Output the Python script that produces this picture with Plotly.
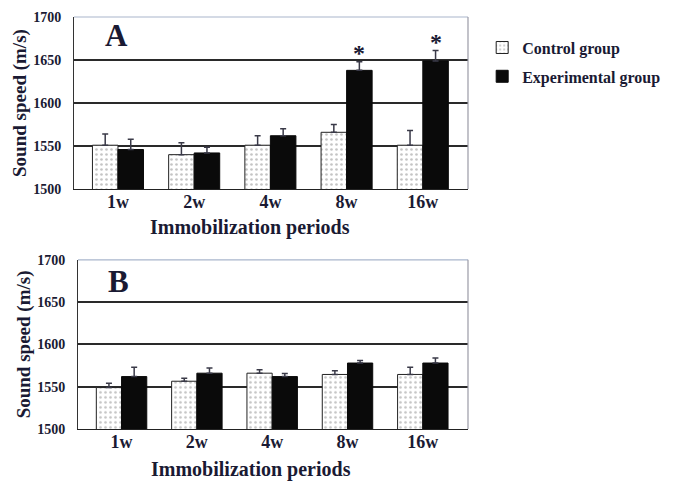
import plotly.graph_objects as go

# Immobilization periods (categories)
periods = ["1w", "2w", "4w", "8w", "16w"]

# Panel A: sound speed (m/s), mean and upper error
a_control = [1551, 1540, 1551, 1566, 1551]
a_control_err = [13, 14, 11, 9, 17]
a_exp = [1546, 1542, 1562, 1638, 1649]
a_exp_err = [12, 6.5, 8, 10, 12]

# Panel B: sound speed (m/s), mean and upper error
b_control = [1549, 1556.5, 1566, 1564.5, 1564.5]
b_control_err = [5, 3.5, 4, 4.5, 8.5]
b_exp = [1562, 1566, 1562, 1578, 1578]
b_exp_err = [11, 6, 3.5, 3, 6]

# Periods with a significant difference in panel A
a_significant = [3, 4]

y_ticks = [1500, 1550, 1600, 1650, 1700]

FONT = "Liberation Serif"
TXT = "#1a1a33"
BARGAP = 0.33

x_idx = list(range(len(periods)))

control_marker = dict(
    color="white",
    line=dict(color="#222222", width=1),
    pattern=dict(shape=".", fgcolor="#8a8a8a", bgcolor="white", size=5, solidity=0.22),
)
exp_marker = dict(color="#0a0a0a", line=dict(color="#0a0a0a", width=1))


def err(vals):
    return dict(type="data", symmetric=False, array=vals, arrayminus=[0] * len(vals),
                color="#3a3a48", thickness=1.5, width=3)


fig = go.Figure()

fig.add_trace(go.Bar(x=x_idx, y=a_control, name="Control group", marker=control_marker,
                     error_y=err(a_control_err), xaxis="x", yaxis="y",
                     legendgroup="c", showlegend=True))
fig.add_trace(go.Bar(x=x_idx, y=a_exp, name="Experimental group", marker=exp_marker,
                     error_y=err(a_exp_err), xaxis="x", yaxis="y",
                     legendgroup="e", showlegend=True))
fig.add_trace(go.Bar(x=x_idx, y=b_control, name="Control group", marker=control_marker,
                     error_y=err(b_control_err), xaxis="x2", yaxis="y2",
                     legendgroup="c", showlegend=False))
fig.add_trace(go.Bar(x=x_idx, y=b_exp, name="Experimental group", marker=exp_marker,
                     error_y=err(b_exp_err), xaxis="x2", yaxis="y2",
                     legendgroup="e", showlegend=False))

tick_font = dict(family=FONT, size=14, color=TXT, weight="bold")
xtick_font = dict(family=FONT, size=18, color=TXT, weight="bold")
xtitle_font = dict(family=FONT, size=20, color=TXT, weight="bold")
ytitle_font = dict(family=FONT, size=19, color=TXT, weight="bold")


def xaxis(domain, rng, anchor):
    return dict(domain=domain, range=rng, anchor=anchor, tickmode="array",
                tickvals=x_idx, ticktext=periods, tickfont=xtick_font,
                ticks="outside", ticklen=0, ticklabelstandoff=-4,
                showline=True, linecolor="#222222", linewidth=1.2, showgrid=False,
                zeroline=False)


def yaxis(domain, anchor):
    return dict(domain=domain, range=[1500, 1700], anchor=anchor, tickmode="array",
                tickvals=y_ticks, tickfont=tick_font, ticks="outside", ticklen=0,
                ticklabelstandoff=9, showline=True, linecolor="#333333", linewidth=1,
                showgrid=True, gridcolor="#2a2a2a", gridwidth=1.5, zeroline=False,
                title=dict(text="Sound speed (m/s)", font=ytitle_font, standoff=1))


fig.update_layout(
    width=680, height=481,
    margin=dict(l=74, r=212, t=10, b=52),
    paper_bgcolor="white", plot_bgcolor="white",
    barmode="group", bargap=BARGAP, bargroupgap=0,
    xaxis=xaxis([0, 1], [-0.577, 4.593], "y"),
    yaxis=yaxis([0.5823, 1.0], "x"),
    xaxis2=xaxis([0.0102, 1], [-0.578, 4.60], "y2"),
    yaxis2=yaxis([0, 0.4105], "x2"),
    legend=dict(x=1.036, y=0.967, xanchor="left", yanchor="top",
                font=dict(family=FONT, size=16, color=TXT, weight="bold"),
                traceorder="grouped", tracegroupgap=5, bgcolor="rgba(0,0,0,0)"),
    showlegend=True,
)

# Light frame along the top and right of each panel
for xr, yr in (("x domain", "y domain"), ("x2 domain", "y2 domain")):
    fig.add_shape(type="line", xref=xr, yref=yr, x0=0, x1=1, y0=1, y1=1,
                  line=dict(color="#a9b6cc", width=1.2), layer="above")
    fig.add_shape(type="line", xref=xr, yref=yr, x0=1, x1=1, y0=0, y1=1,
                  line=dict(color="#9a9aa6", width=1.2), layer="above")

# X-axis titles below each panel
for xr, yr, xpos, shift in (("x domain", "y domain", 0.447, -25),
                            ("x2 domain", "y2 domain", 0.443, -27)):
    fig.add_annotation(text="Immobilization periods", xref=xr, yref=yr, x=xpos, y=0,
                       xanchor="center", yanchor="top", yshift=shift, showarrow=False,
                       font=xtitle_font)

# Panel letters
fig.add_annotation(text="A", xref="x domain", yref="y domain", x=0.107, y=0.89,
                   xanchor="center", yanchor="middle", showarrow=False,
                   font=dict(family=FONT, size=31, color=TXT, weight="bold"))
fig.add_annotation(text="B", xref="x2 domain", yref="y2 domain", x=0.103, y=0.87,
                   xanchor="center", yanchor="middle", showarrow=False,
                   font=dict(family=FONT, size=31, color=TXT, weight="bold"))

# Significance stars above the experimental bars
bar_offset = (1 - BARGAP) / 4
for i in a_significant:
    fig.add_annotation(text="*", x=i + bar_offset, y=a_exp[i] + a_exp_err[i],
                       xref="x", yref="y", yanchor="bottom", yshift=-6, showarrow=False,
                       font=dict(family=FONT, size=24, color=TXT, weight="bold"))

fig.write_html("out.html")
